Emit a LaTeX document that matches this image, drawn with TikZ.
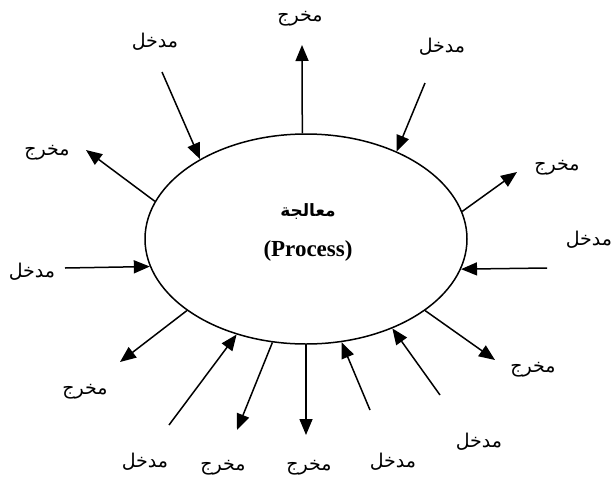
\documentclass[tikz,border=0pt]{standalone}
\usepackage{fontspec}
\setmainfont{Liberation Serif}
\newfontfamily\arabicfont[Script=Arabic]{DejaVu Sans}
\TeXXeTstate=1
\usepackage{tikz}
\usetikzlibrary{shapes.geometric}
\usetikzlibrary{arrows.meta}
\newcommand{\artext}[1]{{\arabicfont\beginR #1\endR}}

\begin{document}
\begin{tikzpicture}[x=1pt,y=-1pt,
    word/.style={inner sep=0pt,font=\fontsize{19}{22}\selectfont},
    flow/.style={line width=1.5pt,-{Triangle[length=16pt,width=13pt]}}]
    \useasboundingbox (0,0) rectangle (613,485);

    \node (proc)[draw=black,line width=1.5pt,shape=ellipse,minimum width=322pt,minimum height=210pt] at (306,239) {};
    \node (procar)[word,font=\fontsize{17}{20}\selectfont] at (308,212) {\artext{\bfseries معالجة}};
    \node (proceng)[word,font=\fontsize{23}{26}\selectfont\bfseries] at (308,251) {(Process)};

    % free ends
    \coordinate (out1) at (302,45);
    \coordinate (in1) at (162,72);
    \coordinate (out2) at (86,150);
    \coordinate (in2) at (65,268);
    \coordinate (out3) at (120,362);
    \coordinate (in3) at (169,425);
    \coordinate (out4) at (237,430);
    \coordinate (out5) at (306,435);
    \coordinate (in4) at (370,410);
    \coordinate (in5) at (440,395);
    \coordinate (out6) at (495,360);
    \coordinate (in6) at (547,268);
    \coordinate (out7) at (517,172);
    \coordinate (in7) at (425,83);

    % labels
    \node (lout1)[word] at (300,19) {\artext{مخرج}};
    \node (lin1)[word] at (155,42) {\artext{مدخل}};
    \node (lout2)[word] at (47,153) {\artext{مخرج}};
    \node (lin2)[word] at (32,272) {\artext{مدخل}};
    \node (lout3)[word] at (85,392) {\artext{مخرج}};
    \node (lin3)[word] at (145,462) {\artext{مدخل}};
    \node (lout4)[word] at (223,468) {\artext{مخرج}};
    \node (lout5)[word] at (309,468) {\artext{مخرج}};
    \node (lin4)[word] at (393,462) {\artext{مدخل}};
    \node (lin5)[word] at (479,442) {\artext{مدخل}};
    \node (lout6)[word] at (533,370) {\artext{مخرج}};
    \node (lin6)[word] at (589,240) {\artext{مدخل}};
    \node (lout7)[word] at (557,168) {\artext{مخرج}};
    \node (lin7)[word] at (442,47) {\artext{مدخل}};

    \path [flow] (proc.92) edge (out1);
    \path [flow] (in1) edge (proc.143.3);
    \path [flow] (proc.166.4) edge (out2);
    \path [flow] (in2) edge (proc.190.5);
    \path [flow] (proc.211.5) edge (out3);
    \path [flow] (in3) edge (proc.234.3);
    \path [flow] (proc.252.2) edge (out4);
    \path [flow] (proc.270) edge (out5);
    \path [flow] (in4) edge (proc.289.1);
    \path [flow] (in5) edge (proc.314);
    \path [flow] (proc.329.8) edge (out6);
    \path [flow] (in6) edge (proc.349.5);
    \path [flow] (proc.10.2) edge (out7);
    \path [flow] (in7) edge (proc.44.4);
\end{tikzpicture}
\end{document}
